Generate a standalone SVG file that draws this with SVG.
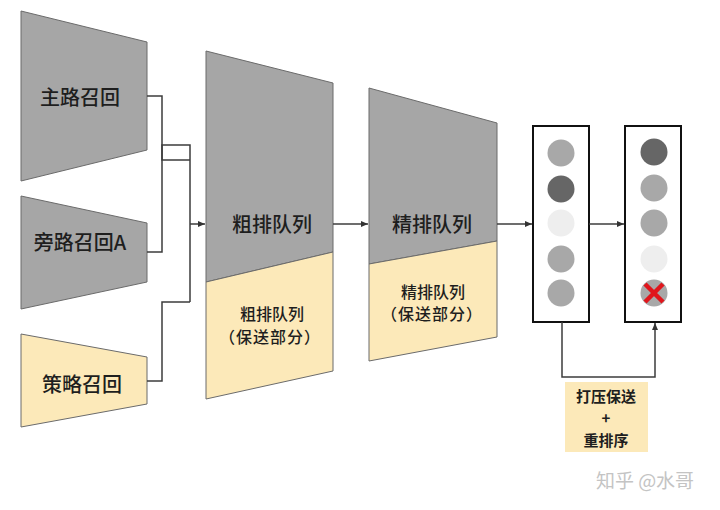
<svg xmlns="http://www.w3.org/2000/svg" width="720" height="510" viewBox="0 0 720 510">
<defs>
<marker id="ah" markerWidth="8" markerHeight="8" refX="7" refY="4" orient="auto" markerUnits="userSpaceOnUse">
<path d="M0,1 L7,4 L0,7 z" fill="#333"/>
</marker>
<style>
.g{fill:#a6a6a6;stroke:#6b6b6b;stroke-width:1}
.y{fill:#fce9b9;stroke:#6b6b6b;stroke-width:1}
.t{font-family:"Noto Sans CJK SC","Liberation Sans",sans-serif;fill:#1e1e1e;text-anchor:middle;dominant-baseline:central;font-weight:500}
.big{font-size:20px}
.mid{font-size:16px}
.lab{font-size:15px;font-weight:bold}
.c{stroke:#3c3c3c;stroke-width:1.5;fill:none}
.box{fill:#fff;stroke:#111;stroke-width:2}
</style>
</defs>
<rect width="720" height="510" fill="#fff"/>

<g id="main-recall">
<polygon class="g" points="21,11 147,42 147,150 21,181"/>
<text class="t big" x="80" y="96">主路召回</text>
</g>
<g id="side-recall">
<polygon class="g" points="21,196 147,223 147,282 21,309"/>
<text class="t big" x="80" y="241">旁路召回A</text>
</g>
<g id="strategy-recall">
<polygon class="y" points="21,334 147,357 147,404 21,427"/>
<text class="t big" x="82" y="383">策略召回</text>
</g>

<g id="coarse-rank">
<polygon class="g" points="206,51 333,83 333,252 206,282"/>
<polygon class="y" points="206,282 333,252 333,371 206,399"/>
<text class="t big" x="272" y="223">粗排队列</text>
<text class="t mid" x="272" y="313">粗排队列</text>
<text class="t mid" x="270" y="336" letter-spacing="1">（保送部分）</text>
</g>
<g id="fine-rank">
<polygon class="g" points="369,88 497,123 497,241 369,264"/>
<polygon class="y" points="369,264 497,241 497,337 369,361"/>
<text class="t big" x="432" y="223">精排队列</text>
<text class="t mid" x="433" y="291">精排队列</text>
<text class="t mid" x="432" y="313" letter-spacing="1">（保送部分）</text>
</g>

<g id="list-before">
<rect class="box" x="533" y="126" width="56" height="196"/>
<circle cx="561" cy="153" r="13.5" fill="#a8a8a8"/>
<circle cx="561" cy="189" r="13.5" fill="#666"/>
<circle cx="561" cy="223" r="13.5" fill="#eeeeee"/>
<circle cx="561" cy="259" r="13.5" fill="#a8a8a8"/>
<circle cx="561" cy="293" r="13.5" fill="#a8a8a8"/>
</g>
<g id="list-after">
<rect class="box" x="625" y="126" width="56" height="196"/>
<circle cx="654" cy="152" r="13.5" fill="#666"/>
<circle cx="654" cy="188" r="13.5" fill="#a8a8a8"/>
<circle cx="654" cy="223" r="13.5" fill="#a8a8a8"/>
<circle cx="654" cy="259" r="13.5" fill="#eeeeee"/>
<circle cx="654" cy="293" r="13.5" fill="#a8a8a8"/>
<path d="M645,284 L663,302 M663,284 L645,302" stroke="#e0161c" stroke-width="4.5" stroke-linecap="butt"/>
</g>

<g id="label-rerank">
<rect x="565" y="382" width="83" height="70" fill="#fce9b9"/>
<text class="t lab" x="606" y="395">打压保送</text>
<text class="t lab" x="606" y="417">+</text>
<text class="t lab" x="606" y="439">重排序</text>
</g>

<g id="connectors">
<path class="c" d="M147,96 H162 V160 H190"/>
<path class="c" d="M147,252 H162 V145 H190 V302"/>
<path class="c" d="M147,381 H162 V302 H190"/>
<path class="c" d="M190,224 H205" marker-end="url(#ah)"/>
<path class="c" d="M333,224 H368" marker-end="url(#ah)"/>
<path class="c" d="M497,224 H532" marker-end="url(#ah)"/>
<path class="c" d="M589,224 H624" marker-end="url(#ah)"/>
<path class="c" d="M562,322 V377 H655 V323" marker-end="url(#ah)"/>
</g>

<text x="645" y="479" font-family="Noto Sans CJK SC,sans-serif" font-size="19" fill="#c4c4c4" text-anchor="middle" dominant-baseline="central">知乎 @水哥</text>
</svg>
